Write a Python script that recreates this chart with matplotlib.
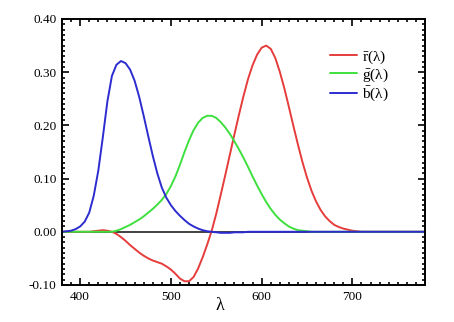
import matplotlib
matplotlib.use('Agg')
import matplotlib.pyplot as plt
from matplotlib.ticker import MultipleLocator, FormatStrFormatter

plt.rcParams['font.family'] = 'Liberation Serif'
plt.rcParams['mathtext.fontset'] = 'custom'
plt.rcParams['mathtext.rm'] = 'Liberation Serif'
plt.rcParams['mathtext.it'] = 'Liberation Serif'

# colour matching functions r, g, b (5 nm steps, 380-780 nm)
wavelength = list(range(380, 785, 5))

r_bar = [0.0, 0.0, 0.0, 0.0, 0.0, 0.0, 0.0, 0.001,
         0.002, 0.003, 0.002, 0.000, -0.004, -0.010, -0.017, -0.025,
         -0.032, -0.039, -0.045, -0.050, -0.054, -0.057, -0.060, -0.065,
         -0.071, -0.079, -0.088, -0.093, -0.093, -0.085, -0.069, -0.048,
         -0.024, 0.002, 0.034, 0.070, 0.107, 0.145, 0.183, 0.220,
         0.255, 0.287, 0.313, 0.333, 0.346, 0.350, 0.344, 0.327,
         0.301, 0.270, 0.235, 0.199, 0.164, 0.131, 0.102, 0.077,
         0.057, 0.041, 0.029, 0.020, 0.013, 0.009, 0.006, 0.004,
         0.002, 0.001, 0.0, 0.0, 0.0, 0.0, 0.0, 0.0,
         0.0, 0.0, 0.0, 0.0, 0.0, 0.0, 0.0, 0.0, 0.0]

g_bar = [0.0, 0.0, 0.0, 0.0, 0.0, 0.0, 0.0, 0.0,
         0.0, 0.0, 0.0, 0.0, 0.002, 0.005, 0.009, 0.013,
         0.018, 0.023, 0.029, 0.036, 0.043, 0.051, 0.060, 0.071,
         0.086, 0.104, 0.126, 0.150, 0.172, 0.191, 0.205, 0.214,
         0.218, 0.218, 0.214, 0.206, 0.196, 0.184, 0.170, 0.155,
         0.139, 0.122, 0.104, 0.087, 0.071, 0.056, 0.043, 0.032,
         0.023, 0.016, 0.010, 0.006, 0.003, 0.002, 0.001, 0.0,
         0.0, 0.0, 0.0, 0.0, 0.0, 0.0, 0.0, 0.0,
         0.0, 0.0, 0.0, 0.0, 0.0, 0.0, 0.0, 0.0,
         0.0, 0.0, 0.0, 0.0, 0.0, 0.0, 0.0, 0.0, 0.0]

b_bar = [0.000, 0.001, 0.002, 0.005, 0.010, 0.019, 0.036, 0.068,
         0.115, 0.178, 0.245, 0.293, 0.314, 0.321, 0.317, 0.305,
         0.284, 0.254, 0.218, 0.180, 0.143, 0.110, 0.083, 0.064,
         0.050, 0.039, 0.030, 0.022, 0.015, 0.010, 0.006, 0.003,
         0.001, 0.000, -0.001, -0.002, -0.002, -0.002, -0.001, -0.001,
         -0.001, 0.0, 0.0, 0.0, 0.0, 0.0, 0.0, 0.0,
         0.0, 0.0, 0.0, 0.0, 0.0, 0.0, 0.0, 0.0,
         0.0, 0.0, 0.0, 0.0, 0.0, 0.0, 0.0, 0.0,
         0.0, 0.0, 0.0, 0.0, 0.0, 0.0, 0.0, 0.0,
         0.0, 0.0, 0.0, 0.0, 0.0, 0.0, 0.0, 0.0, 0.0]

fig = plt.figure(figsize=(4.54, 3.22), dpi=100)
ax = fig.add_axes([0.1366, 0.115, 0.7994, 0.826])

ax.axhline(0, color='#333333', linewidth=1.3, zorder=1)
curves = [(r_bar, '#e63c3c', r'$\mathrm{\bar{r}(\lambda)}$'),
          (g_bar, '#3ee03e', r'$\mathrm{\bar{g}(\lambda)}$'),
          (b_bar, '#2c2ccf', r'$\mathrm{\bar{b}(\lambda)}$')]
for vals, col, lab in curves:
    ax.plot(wavelength, vals, color=col, linewidth=1.4, label=lab,
            solid_joinstyle='round', solid_capstyle='round')

ax.set_xlim(380, 780)
ax.set_ylim(-0.10, 0.40)

ax.xaxis.set_major_locator(MultipleLocator(100))
ax.xaxis.set_minor_locator(MultipleLocator(10))
ax.yaxis.set_major_locator(MultipleLocator(0.1))
ax.yaxis.set_minor_locator(MultipleLocator(0.01))
ax.yaxis.set_major_formatter(FormatStrFormatter('%.2f'))

ax.tick_params(which='both', direction='in', top=True, right=True, width=1.2,
               labelsize=9.5, pad=4)
ax.tick_params(which='major', length=5)
ax.tick_params(which='minor', length=2.5)
for s in ax.spines.values():
    s.set_linewidth(1.4)

# lambda label sits a bit left of centre
ax.text(0.435, -0.045, 'λ', transform=ax.transAxes, ha='center', va='top',
        fontsize=13)

ax.legend(loc='upper left', bbox_to_anchor=(0.738, 0.89), frameon=False,
          borderpad=0, borderaxespad=0, fontsize=11, handlelength=1.8,
          handletextpad=0.3, labelspacing=0.05)

fig.savefig('out.png', dpi=100)
